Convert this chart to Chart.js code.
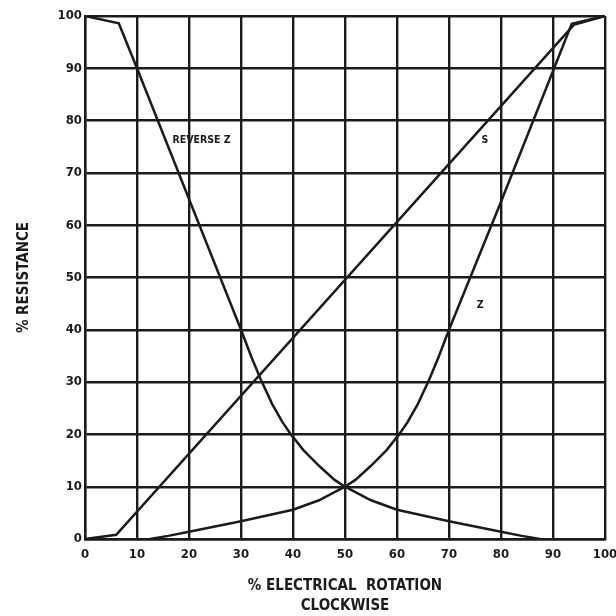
<!DOCTYPE html>
<html>
<head>
<meta charset="utf-8">
<script src="https://cdn.jsdelivr.net/npm/chart.js@4.4.1/dist/chart.umd.min.js"></script>
<style>
  html, body { margin: 0; padding: 0; background: #fff; }
  #wrap { width: 616px; height: 616px; }
</style>
</head>
<body>
<div id="wrap"><canvas id="c" width="616" height="616"></canvas></div>
<script>
// curve points: [% rotation, % resistance]
const revZ = [[0, 100], [6.5, 98.6], [10, 90], [20, 65], [30, 40], [32, 34.8], [33.8, 30.5], [36, 25.8],
  [38, 22.3], [39.6, 20], [42, 17], [45, 14], [48, 11.3], [50, 10], [55, 7.4], [60, 5.6], [65, 4.5],
  [70, 3.4], [75, 2.4], [80, 1.4], [84, 0.6], [87.5, 0]];
const zCurve = [[12.5, 0], [16, 0.6], [20, 1.4], [25, 2.4], [30, 3.4], [35, 4.5], [40, 5.6], [45, 7.4],
  [50, 10], [52, 11.3], [55, 14], [58, 17], [60.4, 20], [62, 22.3], [64, 25.8], [66.2, 30.5],
  [68, 34.8], [70, 40], [80, 64.5], [90, 89.5], [93.6, 98.5], [100, 100]];
const sLine = [[0, 0], [6, 0.8], [94, 98.3], [100, 100]];
const curveNames = ['REVERSE Z', 'Z', 'S'];
const labelText = ['REVERSE Z', 'S', 'Z'];
const labelAt = [[22.4, 76.3], [76.9, 76.3], [76, 44.7]];
const ticks10 = [0, 10, 20, 30, 40, 50, 60, 70, 80, 90, 100];

const INK = '#1b1b1b';
const COND = '"DejaVu Sans Condensed", "DejaVu Sans", sans-serif';
const tickFont = { family: COND, size: 13, weight: 'bold' };
const titleFont = { family: COND, size: 15, weight: 'bold', lineHeight: 1.33 };

const pts = a => a.map(p => ({ x: p[0], y: p[1] }));

const labels = {
  id: 'curveLabels',
  afterDatasetsDraw(chart) {
    const { ctx, scales: { x, y } } = chart;
    ctx.save();
    ctx.fillStyle = INK;
    ctx.font = 'bold 10.5px ' + COND;
    ctx.textAlign = 'center';
    ctx.textBaseline = 'middle';
    labelText.forEach((t, i) => ctx.fillText(t, x.getPixelForValue(labelAt[i][0]), y.getPixelForValue(labelAt[i][1])));
    ctx.restore();
  },
};

const line = (name, data) => ({
  label: name, data: pts(data), showLine: true, borderColor: INK, borderWidth: 2.5,
  pointRadius: 0, tension: 0, fill: false,
});

new Chart(document.getElementById('c'), {
  type: 'scatter',
  data: { datasets: [line(curveNames[0], revZ), line(curveNames[1], zCurve), line(curveNames[2], sLine)] },
  options: {
    responsive: false,
    animation: false,
    layout: { padding: { top: 16, right: 11, left: 0, bottom: 0 } },
    plugins: { legend: { display: false }, tooltip: { enabled: false } },
    scales: {
      x: {
        type: 'linear', min: 0, max: 100,
        afterBuildTicks: s => { s.ticks = ticks10.map(v => ({ value: v })); },
        afterFit: s => { s.height = 77; s.paddingLeft = 0; s.paddingRight = 0; },
        grid: { color: INK, lineWidth: 2.4, drawTicks: false },
        border: { color: INK, width: 2.4 },
        ticks: { color: INK, font: tickFont, padding: 8, maxRotation: 0 },
        title: { display: true, text: ['% ELECTRICAL  ROTATION', 'CLOCKWISE'], color: INK, font: titleFont, padding: { top: 0, bottom: 0 } },
      },
      y: {
        type: 'linear', min: 0, max: 100,
        afterBuildTicks: s => { s.ticks = ticks10.map(v => ({ value: v })); },
        afterFit: s => { s.width = 85; s.paddingTop = 0; s.paddingBottom = 0; },
        grid: { color: INK, lineWidth: 2.4, drawTicks: false },
        border: { color: INK, width: 2.4 },
        ticks: { color: INK, font: tickFont, padding: 3 },
        title: { display: true, text: '% RESISTANCE', color: INK, font: titleFont, padding: { top: 14, bottom: 0 } },
      },
    },
  },
  plugins: [labels],
});
</script>
</body>
</html>
